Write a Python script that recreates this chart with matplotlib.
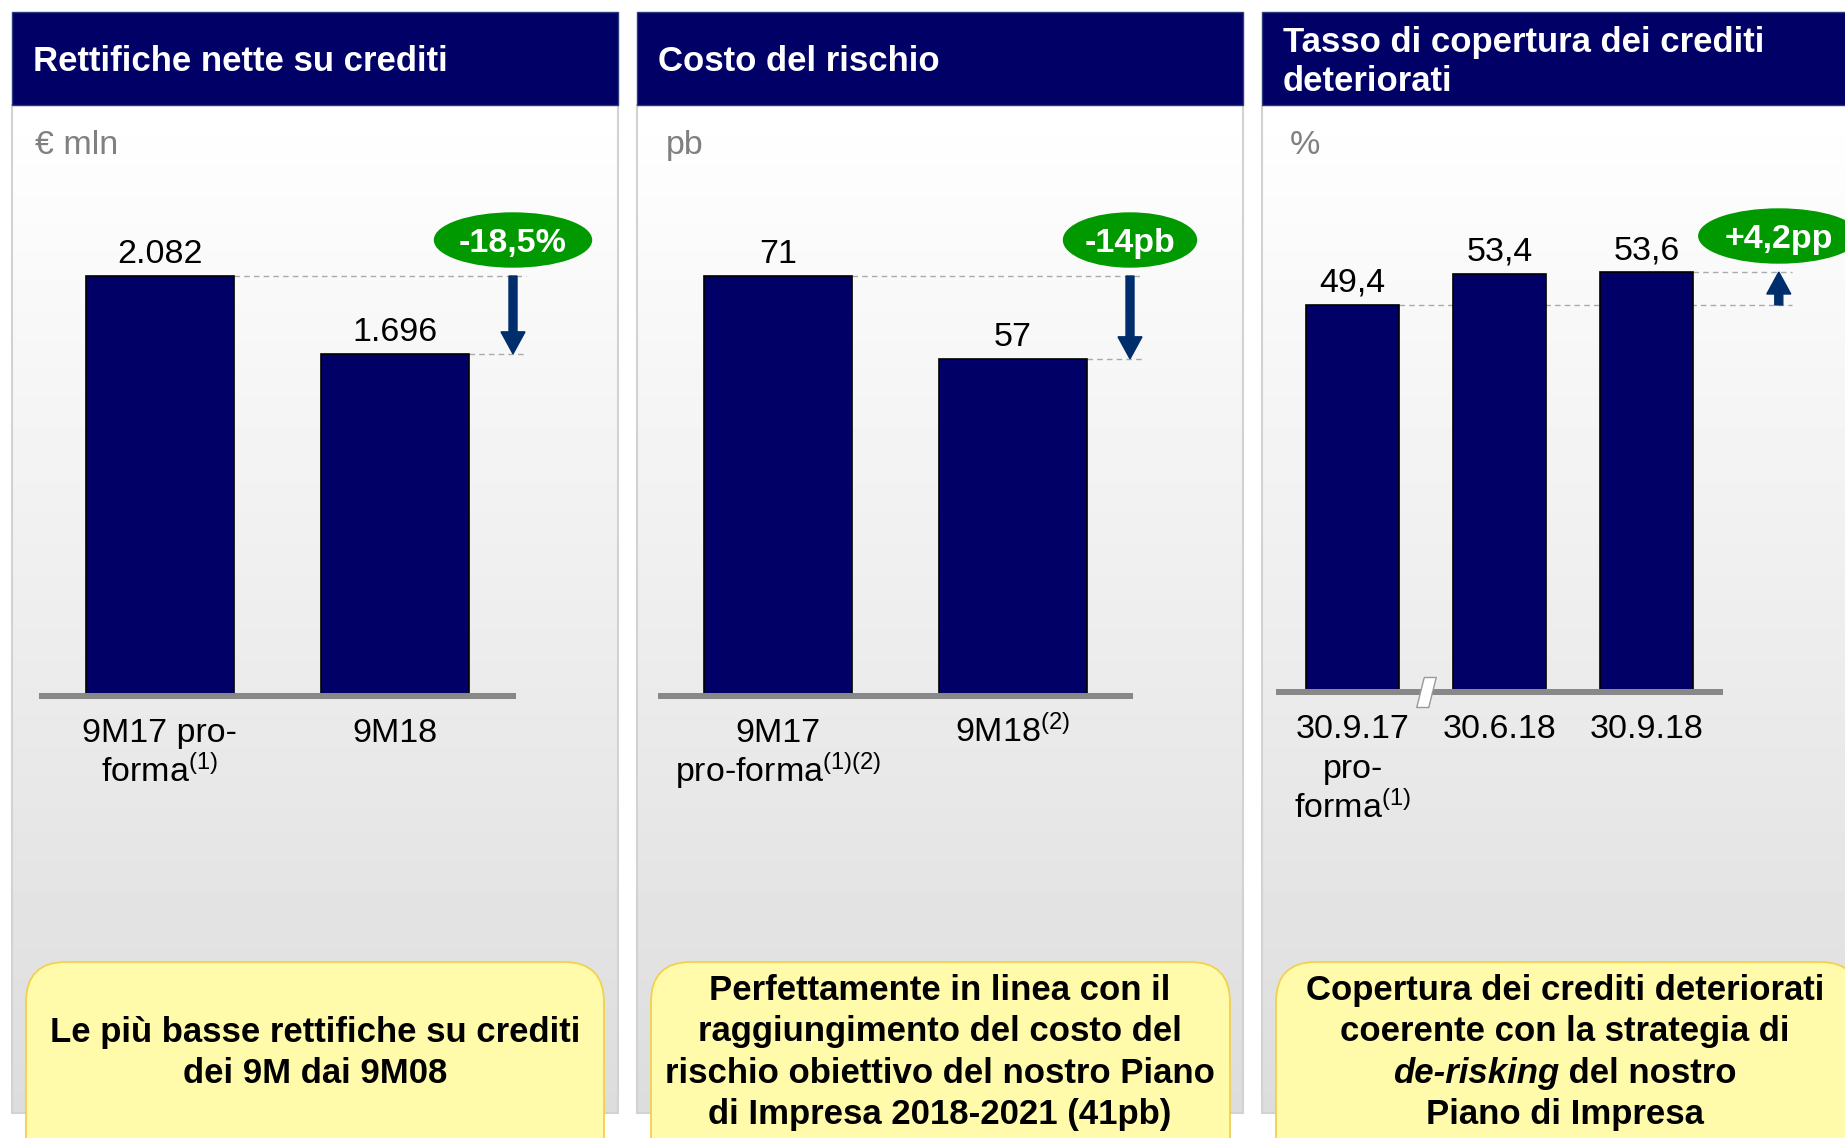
import numpy as np
import matplotlib.pyplot as plt
from matplotlib.patches import Rectangle, Ellipse, FancyBboxPatch

plt.rcParams['font.family'] = ['Liberation Sans', 'DejaVu Sans']
plt.rcParams['mathtext.fontset'] = 'custom'
plt.rcParams['mathtext.rm'] = 'Liberation Sans'
plt.rcParams['mathtext.it'] = 'Liberation Sans:italic'
plt.rcParams['mathtext.bf'] = 'Liberation Sans:bold'

# --- data ---
titles = [["Rettifiche nette su crediti"],
          ["Costo del rischio"],
          ["Tasso di copertura dei crediti", "deteriorati"]]
units = ["€ mln", "pb", "%"]

rett_values = [2082, 1696]
rett_texts = ["2.082", "1.696"]
rett_labels = [["9M17 pro-", "forma$^{(1)}$"], ["9M18"]]
rett_delta = "-18,5%"

costo_values = [71, 57]
costo_texts = ["71", "57"]
costo_labels = [["9M17", "pro-forma$^{(1)(2)}$"], ["9M18$^{(2)}$"]]
costo_delta = "-14pb"

cop_values = [49.4, 53.4, 53.6]
cop_texts = ["49,4", "53,4", "53,6"]
cop_labels = [["30.9.17", "pro-", "forma$^{(1)}$"], ["30.6.18"], ["30.9.18"]]
cop_delta = "+4,2pp"

notes = [
    [[("Le più basse rettifiche su crediti", "normal")],
     [("dei 9M dai 9M08", "normal")]],
    [[("Perfettamente in linea con il", "normal")],
     [("raggiungimento del costo del", "normal")],
     [("rischio obiettivo del nostro Piano", "normal")],
     [("di Impresa 2018-2021 (41pb)", "normal")]],
    [[("Copertura dei crediti deteriorati", "normal")],
     [("coerente con la strategia di", "normal")],
     [("de-risking", "italic"), (" del nostro", "normal")],
     [("Piano di Impresa", "normal")]],
]

W, H = 1845, 1138
PT = 0.72  # points per pixel at dpi 100
NAVY = '#000066'
ARROW = '#002D6B'
GREEN = '#009900'
FS = 24.5

fig = plt.figure(figsize=(W / 100, H / 100), dpi=100)
bg = fig.add_axes([0, 0, 1, 1], zorder=0)
bg.set_xlim(0, W)
bg.set_ylim(H, 0)
bg.axis('off')

# panels: header + gradient body
panel_x = [(12, 618), (637, 1243), (1262, 1860)]
unit_dx = [23, 29, 28]
grad = np.linspace(1.0, 0.865, 256)[:, None]
for (x0, x1), title, unit, udx in zip(panel_x, titles, units, unit_dx):
    bg.imshow(grad, cmap='gray', vmin=0, vmax=1, extent=(x0, x1, 1113, 105),
              aspect='auto', zorder=0)
    bg.add_patch(Rectangle((x0, 105), x1 - x0, 1008, fill=False,
                           ec='#D2D2D2', lw=1.5, zorder=1))
    bg.add_patch(Rectangle((x0, 12), x1 - x0, 93, fc=NAVY, ec='#2B3A78',
                           lw=1, zorder=2))
    if len(title) == 1:
        bg.text(x0 + 21, 71, title[0], color='white', fontsize=25,
                fontweight='bold', va='baseline', zorder=3)
    else:
        for k, line in enumerate(title):
            bg.text(x0 + 21, 52 + 39 * k, line, color='white', fontsize=25,
                    fontweight='bold', va='baseline', zorder=3)
    bg.text(x0 + udx, 154, unit, color='#808080', fontsize=FS, va='baseline',
            zorder=3)
bg.set_xlim(0, W)
bg.set_ylim(H, 0)

# yellow notes
note_x = [(26, 604), (651, 1230), (1276, 1860)]
note_cx = [315, 940, 1565]
note_base = [[1042, 1083], [1000, 1041, 1083, 1124], [1000, 1041, 1083, 1124]]
renderer = fig.canvas.get_renderer()
for (x0, x1), cx, lines, bases in zip(note_x, note_cx, notes, note_base):
    bg.add_patch(FancyBboxPatch((x0, 962), x1 - x0, 240,
                                boxstyle='round,pad=0,rounding_size=40',
                                fc='#FFFBAA', ec='#F2D050', lw=1.3, zorder=2))
    for segs, yb in zip(lines, bases):
        objs = [bg.text(0, yb, s, fontsize=25, fontweight='bold', fontstyle=st,
                        va='baseline', ha='left', zorder=3) for s, st in segs]
        widths = [o.get_window_extent(renderer).width for o in objs]
        xx = cx - sum(widths) / 2
        for o, w in zip(objs, widths):
            o.set_x(xx)
            xx += w


def draw_chart(rect, values, texts, labels, delta, arrow_x, ell_w):
    x0, y0, x1, y1 = rect
    ax = fig.add_axes([x0 / W, 1 - y1 / H, (x1 - x0) / W, (y1 - y0) / H],
                      zorder=2)
    ax.set_facecolor('none')
    n = len(values)
    ymax = max(values) * 1.3
    ax.set_xlim(-0.5, n - 0.5)
    ax.set_ylim(0, ymax)
    ax.axis('off')
    ppx = (x1 - x0) / n
    ppy = (y1 - y0) / ymax
    x = np.arange(n)
    ax.bar(x, values, width=0.63, color=NAVY, edgecolor='black', lw=1.2,
           zorder=3)
    ax.axhline(0, color='#888888', lw=6 * PT, zorder=4, clip_on=False)
    for xi, v, t in zip(x, values, texts):
        ax.annotate(t, (xi, v), xytext=(0, 13 * PT), textcoords='offset points',
                    ha='center', va='baseline', fontsize=FS)
    for xi, lines in zip(x, labels):
        for k, line in enumerate(lines):
            ax.annotate(line, (xi, 0), xytext=(0, -(46 + 40 * k) * PT),
                        textcoords='offset points', ha='center',
                        va='baseline', fontsize=FS, annotation_clip=False)
    # reference dashed lines and arrow
    start, end = values[0], values[-1]
    x_end = arrow_x + 13 / ppx
    for xi, v in ((0, start), (n - 1, end)):
        ax.plot([xi + 0.315, x_end], [v, v], ls=(0, (4, 3)), color='#AAAAAA',
                lw=1, zorder=2, clip_on=False)
    ax.arrow(arrow_x, start, 0, end - start, width=8 / ppx,
             head_width=24 / ppx, head_length=22 / ppy,
             length_includes_head=True, color=ARROW, zorder=5, clip_on=False)
    cy = max(values) + 36 / ppy
    ax.add_patch(Ellipse((arrow_x, cy), ell_w / ppx, 54 / ppy, color=GREEN,
                         zorder=5, clip_on=False))
    ax.text(arrow_x, cy, delta, color='white', fontsize=FS, fontweight='bold',
            ha='center', va='center_baseline', zorder=6, clip_on=False)
    return ax


draw_chart((42, 150, 513, 696), rett_values, rett_texts, rett_labels,
           rett_delta, 1.5, 157)
draw_chart((661, 150, 1130, 696), costo_values, costo_texts, costo_labels,
           costo_delta, 1.5, 133)
ax3 = draw_chart((1279, 146, 1720, 692), cop_values, cop_texts, cop_labels,
                 cop_delta, 2.9, 160)

# axis break between 30.9.17 and 30.6.18
slash = [(-2.25, 15), (9.75, 15), (2.25, -15), (-9.75, -15), (-2.25, 15)]
ax3.plot(0.5, 0, marker=slash, ms=30 * PT, mfc='white', mec='#999999',
         mew=1, zorder=6, clip_on=False)

fig.savefig('out.png', dpi=100)
